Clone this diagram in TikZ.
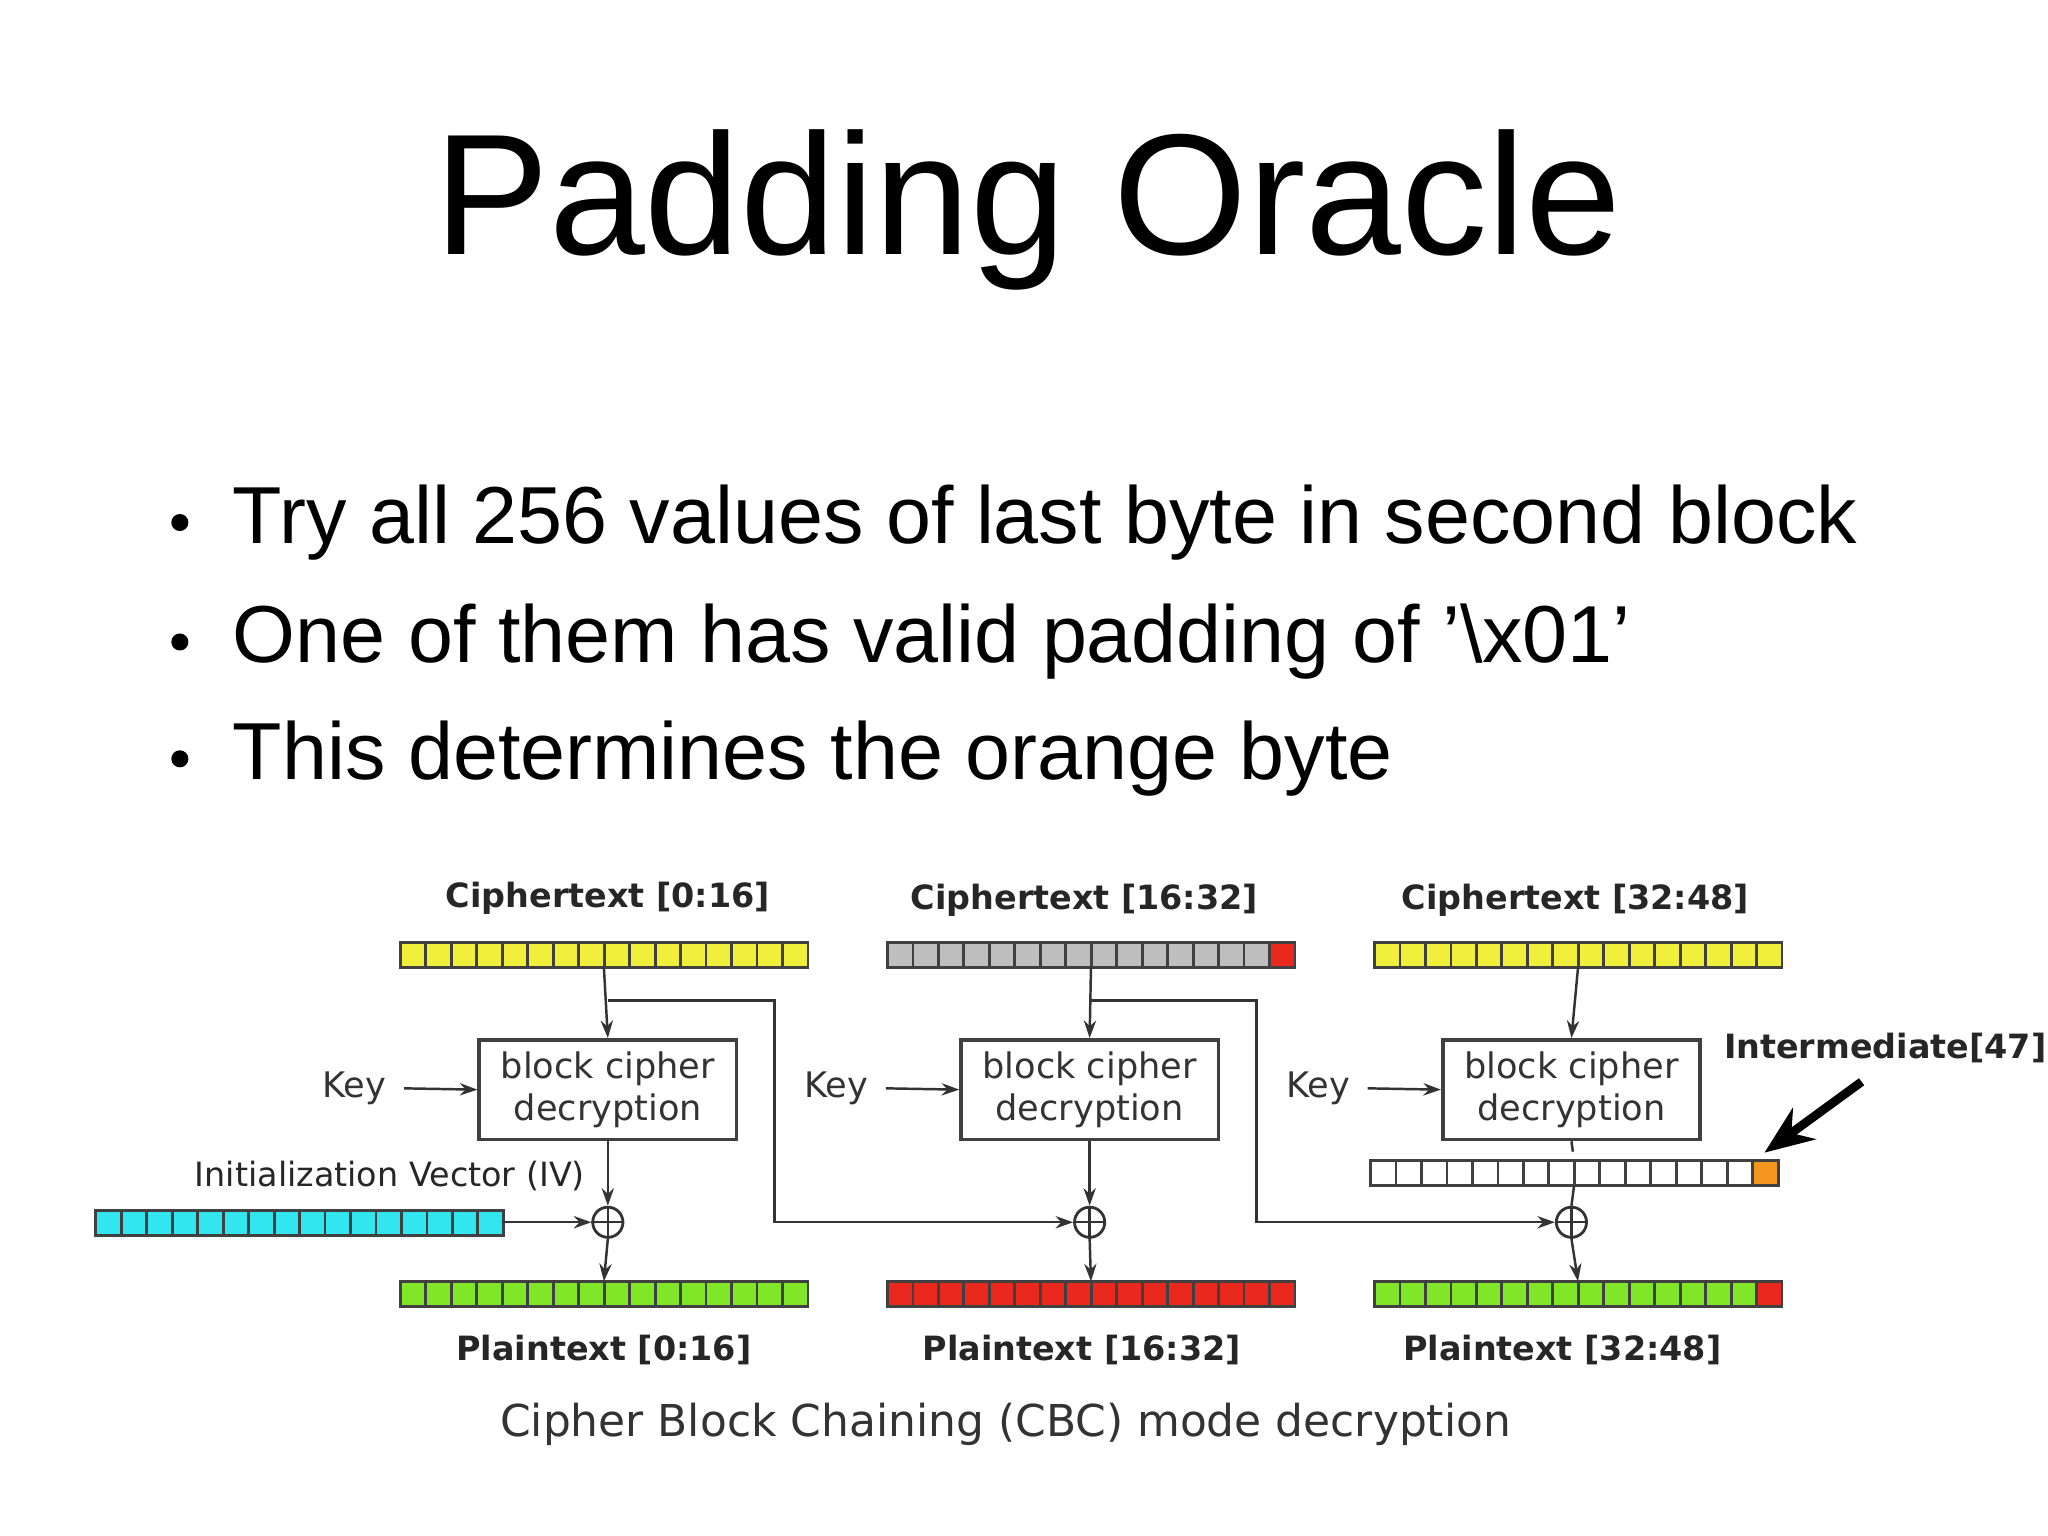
\documentclass[tikz,border=0pt]{standalone}
\usepackage{fontspec}
\setmainfont{Liberation Sans}
\newfontfamily\djv{DejaVu Sans}
\usetikzlibrary{arrows.meta}
\definecolor{cy}{RGB}{240,240,60}
\definecolor{cg}{RGB}{190,190,190}
\definecolor{cr}{RGB}{235,40,30}
\definecolor{cgr}{RGB}{130,230,40}
\definecolor{ccy}{RGB}{50,230,240}
\definecolor{cor}{RGB}{245,150,30}
\newcommand{\cellbar}[5]{% x y name fill lastfill
  \foreach \i in {0,...,15}{
    \pgfmathsetmacro{\xa}{#1+\i*19.4}
    \ifnum\i=15 \def\cf{#5}\else\def\cf{#4}\fi
    \filldraw[fill=\cf,draw=black!75,line width=0.8pt] (\xa,#2) rectangle ++(19.4,19);
  }
  \coordinate (#3) at (#1+155,#2+9.5);
}
\begin{document}
\begin{tikzpicture}[x=0.013128cm,y=-0.013128cm,
  lbl/.style={font=\djv\bfseries\fontsize{9.5}{11}\selectfont,text=black!85},
  box/.style={draw=black!75,line width=1pt,minimum width=196*0.013128cm,minimum height=72*0.013128cm,align=center,font=\djv\fontsize{10}{12}\selectfont,text=black!80},
  xo/.style={circle,draw=black!80,line width=0.8pt,minimum size=23*0.013128cm,inner sep=0pt},
  ar/.style={-{Stealth[length=5pt,width=3.5pt]},line width=0.7pt,black!80},
  ln/.style={line width=0.7pt,black!80}]
\useasboundingbox (0,0) rectangle (1560,1170);
\fill[white] (0,0) rectangle (1560,1170);
\node (title) at (783,160) {\fontsize{49}{55}\selectfont Padding Oracle};
\foreach \yy/\t [count=\k] in {398/Try all 256 values of last byte in second block,489/One of them has valid padding of '\textbackslash x01',578/This determines the orange byte}{
  \fill (137,\yy) circle (6.5);
  \node[anchor=west,font=\fontsize{23}{27}\selectfont] (b\k) at (168,\yy) {\t};
}
% bars
\cellbar{305}{718}{c1}{cy}{cy}
\cellbar{676}{718}{c2}{cg}{cr}
\cellbar{1047}{718}{c3}{cy}{cy}
\cellbar{305}{976}{p1}{cgr}{cgr}
\cellbar{676}{976}{p2}{cr}{cr}
\cellbar{1047}{976}{p3}{cgr}{cr}
\cellbar{73}{922}{iv}{ccy}{ccy}
\cellbar{1044}{884}{im}{white}{cor}
\node[lbl] (lc1) at (463,684) {Ciphertext [0:16]};
\node[lbl] (lc2) at (826,686) {Ciphertext [16:32]};
\node[lbl] (lc3) at (1200,686) {Ciphertext [32:48]};
\node[lbl] (lp1) at (460,1028) {Plaintext [0:16]};
\node[lbl] (lp2) at (824,1028) {Plaintext [16:32]};
\node[lbl] (lp3) at (1190,1028) {Plaintext [32:48]};
\node[lbl,font=\djv\fontsize{9.5}{11}\selectfont] (liv) at (297,896) {Initialization Vector (IV)};
\node[lbl] (lim) at (1436,798) {Intermediate[47]};
\node[font=\djv\fontsize{12.5}{15}\selectfont,text=black!80] (cap) at (766,1085) {Cipher Block Chaining (CBC) mode decryption};
\foreach \n/\x in {1/463,2/830,3/1197}{
  \node[box] (d\n) at (\x,830) {block cipher\\decryption};
  \node[xo] (x\n) at (\x,931) {};
  \draw[ln] (x\n.north)--(x\n.south) (x\n.west)--(x\n.east);
  \node[font=\djv\fontsize{10}{12}\selectfont,text=black!80] (k\n) at (\x-193,829) {Key};
  \draw[ar] (k\n.east)++(4,0) -- (d\n.west);
  \draw[ar] (c\n|-0,737) -- (d\n.north);
  \draw[ar] (x\n.south) -- (p\n|-0,976);
}
\draw[ar] (d1.south) -- (x1.north);
\draw[ar] (d2.south) -- (x2.north);
\draw[ln,dashed] (d3.south) -- (im|-0,884);
\draw[ln] (im|-0,903) -- (x3.north);
\draw[ar] (383,931) -- (x1.west);
\coordinate (t1) at (463,762); \coordinate (t2) at (830,762);
\draw[ar] (t1) -| (590,931) -- (x2.west);
\draw[ar] (t2) -| (957,931) -- (x3.west);
\draw[-{Stealth[length=14pt,width=11pt]},line width=2.5pt] (1418,824) -- (1344,878);
\end{tikzpicture}
\end{document}
